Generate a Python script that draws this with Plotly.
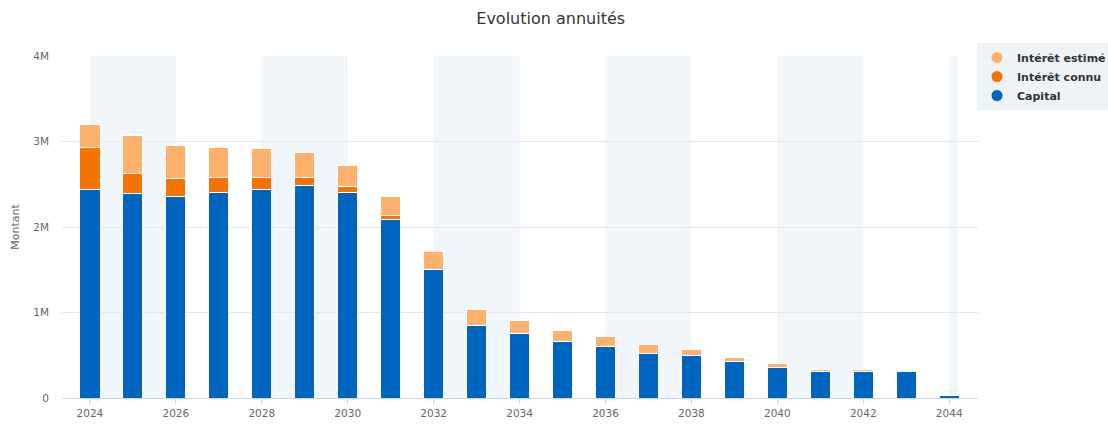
import plotly.graph_objects as go

years = list(range(2024, 2045))
capital = [2.435, 2.39, 2.36, 2.40, 2.435, 2.48, 2.40, 2.09, 1.50, 0.843, 0.753, 0.659, 0.608,
           0.518, 0.502, 0.424, 0.356, 0.311, 0.311, 0.311, 0.031]
interet_connu = [0.495, 0.24, 0.21, 0.18, 0.145, 0.10, 0.07, 0.04, 0.0, 0.0, 0.0, 0.0, 0.0,
                 0.0, 0.0, 0.0, 0.0, 0.0, 0.0, 0.0, 0.0]
interet_estime = [0.27, 0.44, 0.38, 0.35, 0.34, 0.29, 0.25, 0.23, 0.21, 0.187, 0.153, 0.129, 0.117,
                  0.106, 0.067, 0.054, 0.047, 0.028, 0.028, 0.006, 0.0]
y_ticks = [0, 1, 2, 3, 4]
y_tick_labels = ["0", "1M", "2M", "3M", "4M"]
x_ticks = list(range(2024, 2045, 2))
bands = [(2024, 2026), (2028, 2030), (2032, 2034), (2036, 2038), (2040, 2042), (2044, 2044.2)]

M = 1e6
C_CAP = "#0065bf"
C_CONNU = "#f57302"
C_EST = "#fcb26c"

fig = go.Figure()
for name, vals, col in [("Capital", capital, C_CAP),
                        ("Intérêt connu", interet_connu, C_CONNU),
                        ("Intérêt estimé", interet_estime, C_EST)]:
    fig.add_trace(go.Bar(x=years, y=[v * M for v in vals], name=name,
                         marker=dict(color=col, line=dict(color="#ffffff", width=1)),
                         width=0.47, showlegend=False, legendgroup=name))

for name, col in [("Capital", C_CAP), ("Intérêt connu", C_CONNU), ("Intérêt estimé", C_EST)]:
    fig.add_trace(go.Scatter(x=[None], y=[None], mode="markers", name=name, legendgroup=name,
                             marker=dict(color=col, size=11, symbol="circle")))

for x0, x1 in bands:
    fig.add_shape(type="rect", xref="x", yref="paper", x0=x0, x1=x1, y0=0, y1=1,
                  fillcolor="#f0f6f9", line=dict(width=0), layer="below")

fig.update_layout(
    width=1108, height=426,
    barmode="stack",
    paper_bgcolor="white", plot_bgcolor="white",
    margin=dict(l=62, r=130, t=56, b=28, autoexpand=False),
    font=dict(family="DejaVu Sans", color="#666666"),
    title=dict(text="Evolution annuités", x=0.497, xref="container", xanchor="center",
               y=0.957, yref="container", yanchor="middle",
               font=dict(size=16, color="#333333", family="DejaVu Sans"), automargin=False),
    legend=dict(x=0.9989, y=1.038, xanchor="left", yanchor="top", bgcolor="#eef3f7",
                font=dict(size=11, color="#333333", family="DejaVu Sans", weight="bold"),
                traceorder="reversed", itemwidth=30, tracegroupgap=0),
    bargap=0.5,
)
fig.update_xaxes(range=[2023.35, 2044.67], tickvals=x_ticks, showgrid=False,
                 showline=True, linecolor="#ccd6eb", linewidth=1,
                 ticks="outside", ticklen=5, tickcolor="#ccd6eb",
                 tickfont=dict(size=10.5, color="#666666"), zeroline=False, fixedrange=True)
fig.update_yaxes(range=[0, 4 * M], tickvals=[v * M for v in y_ticks], ticktext=y_tick_labels,
                 showgrid=True, gridcolor="#e6e6e6", gridwidth=1, zeroline=False,
                 showline=False, ticks="", ticklabelstandoff=12,
                 tickfont=dict(size=10.5, color="#666666"),
                 title=dict(text="Montant", font=dict(size=11, color="#666666"), standoff=11))

fig.write_html("out.html", config={"displayModeBar": False},
               post_script="document.body.style.margin='0';document.body.style.padding='0';")
